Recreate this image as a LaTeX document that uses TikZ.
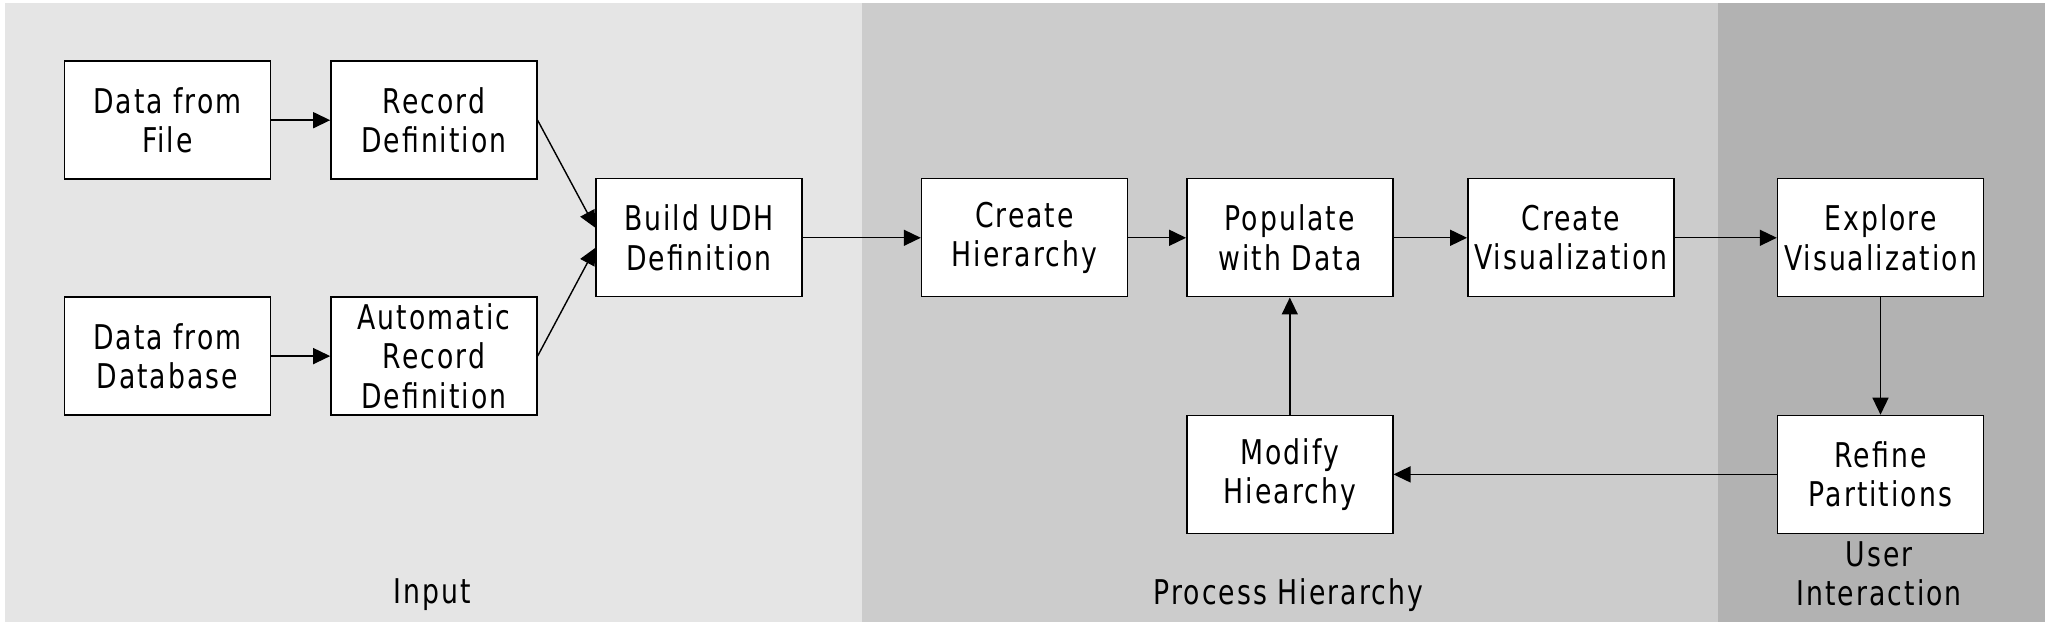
\documentclass[tikz,border=0pt]{standalone}
\usepackage{fontspec}
\setmainfont{DejaVu Sans Condensed}[FakeStretch=0.87, LetterSpace=6]
\usetikzlibrary{positioning, arrows.meta}
\tikzset{step box/.style={draw, thin, fill=white, minimum width=2.06cm, minimum height=1.18cm,
                          align=center, inner sep=0pt, font=\fontsize{9.7}{11.2}\selectfont},
         lane label/.style={align=center, font=\fontsize{9.7}{11.2}\selectfont},
         >={Triangle[length=1.7mm,width=1.6mm]},
        }

\begin{document}
\begin{tikzpicture}
        \useasboundingbox (0,0) rectangle (20.49,-6.27);
        \fill[gray!20](0.05,-0.03)rectangle(8.62,-6.22);
        \fill[gray!40](8.62,-0.03)rectangle(17.18,-6.22);
        \fill[gray!60](17.18,-0.03)rectangle(20.45,-6.22);

        \node[step box](dfile)at(1.673,-1.202){Data from\\File};
        \node[step box](recdef)at(4.339,-1.202){Record\\Definition};
        \node[step box](ddb)at(1.673,-3.561){Data from\\Database};
        \node[step box](autodef)at(4.339,-3.561){Automatic\\Record\\Definition};
        \node[step box](udh)at(6.991,-2.378){Build UDH\\Definition};

        \draw[->](dfile.east)--(recdef.west);
        \draw[->](ddb.east)--(autodef.west);
        \draw[->](recdef.east)--([yshift=1mm]udh.west);
        \draw[->](autodef.east)--([yshift=-1mm]udh.west);

        \node[step box](hier)at(10.245,-2.378){Create\\Hierarchy};
        \node[step box](pop)at(12.898,-2.378){Populate\\with Data};
        \node[step box](vis)at(15.708,-2.378){Create\\Visualization};
        \node[step box](modify)at(12.898,-4.744){Modify\\Hiearchy};

        \draw[->](udh.east)--(hier.west);
        \draw[->](hier.east)--(pop.west);
        \draw[->](pop.east)--(vis.west);

        \node[step box](explore)at(18.805,-2.378){Explore\\Visualization};
        \node[step box](refine)at(18.805,-4.744){Refine\\Partitions};

        \draw[->](vis.east)--(explore.west);
        \draw[->](explore.south)--(refine.north);
        \draw[->](refine.west)--(modify.east);
        \draw[->](modify.north)--(pop.south);

        \node[lane label](input)at(4.326,-5.946){Input};
        \node[lane label](process)at(12.885,-5.946){Process Hierarchy};
        \node[lane label](user)at(18.792,-5.74){User\\Interaction};
    \end{tikzpicture}
\end{document}
